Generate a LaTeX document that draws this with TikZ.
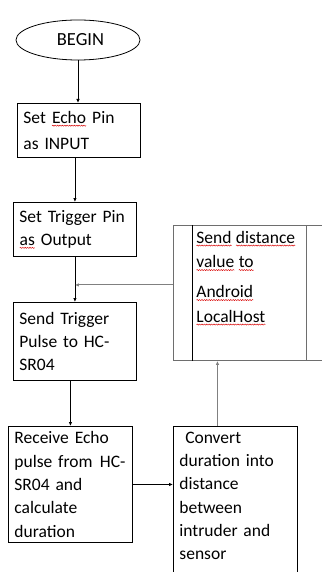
\documentclass[tikz,border=0pt]{standalone}
\usepackage{fontspec}
\setmainfont{Carlito}
\usetikzlibrary{arrows.meta,shapes.geometric,calc,decorations.pathmorphing}
\definecolor{pdgray}{RGB}{110,110,110}
\definecolor{lngray}{RGB}{128,128,128}
\newcommand{\sqw}[1]{\tikz[baseline=(w.base),x=1pt,y=1pt]{\node[inner sep=0pt,outer sep=0pt,draw=none,
  minimum width=0pt,minimum height=0pt,text width={},align=none,anchor=base] (w) at (0,0) {#1};
  \draw[red!85!black,line width=0.45pt,decorate,decoration={snake,amplitude=0.55pt,segment length=2.4pt}]
  ([yshift=-2.2pt]w.base west) -- ([yshift=-2.2pt]w.base east);}}
\begin{document}
\begin{tikzpicture}[x=1pt,y=-1pt,
  box/.style={draw=black,line width=0.9pt,rectangle,anchor=north west,align=left,
    inner xsep=6pt,inner ysep=0pt,font=\fontsize{17.5}{23.3}\selectfont},
  arr/.style={draw=black,line width=0.8pt,-{Latex[length=4pt,width=3.5pt]}},
  garr/.style={draw=lngray,line width=1pt,-{Latex[length=4pt,width=3.5pt]}}]
\useasboundingbox[fill=white] (0,0) rectangle (321,572);

\node[draw=black,line width=0.8pt,ellipse,minimum width=124pt,minimum height=40pt,inner sep=0pt,
  font=\fontsize{18.5}{22}\selectfont] (begin) at (78,40) {\hspace*{5pt}BEGIN};

\node[box,text width=111pt,minimum height=54pt,font=\fontsize{17.5}{26}\selectfont] (b1) at (17,103)
  {Set \sqw{Echo} Pin\\as INPUT};
\node[box,text width=111pt,minimum height=54pt] (b2) at (13,202)
  {Set Trigger Pin\\\sqw{as} Output};
\node[box,text width=111pt,minimum height=78pt] (b3) at (13,302)
  {Send Trigger\\Pulse to HC-\\SR04};
\node[box,text width=112pt,minimum height=116pt] (b4) at (8,426)
  {Receive Echo\\\mbox{pulse from\hspace{1.5pt} HC-}\\SR04 and\\calculate\\duration};
\node[box,text width=112pt,inner ysep=5.5pt] (b5) at (173,426)
  {\ Convert\\duration into\\distance\\between\\intruder and\\sensor\rule[-30pt]{0pt}{0pt}};

\node[draw=pdgray,line width=0.9pt,rectangle,anchor=north west,minimum width=157pt,
  minimum height=135pt,inner sep=0pt] (pd) at (173,225) {};
\draw[black,line width=0.8pt] ([xshift=19pt]pd.north west) -- ([xshift=19pt]pd.south west);
\draw[pdgray,line width=0.9pt] ([xshift=133pt]pd.north west) -- ([xshift=133pt]pd.south west);
\node[anchor=north west,align=left,inner sep=0pt,font=\fontsize{17.5}{24.5}\selectfont] (pdtext) at (196,231)
  {\sqw{Send} \sqw{distance}\\\sqw{value} \sqw{to}\\[5.5pt]\sqw{Android}\\\sqw{LocalHost}};

\draw[arr] (begin.south) -- (begin.south |- b1.north);
\draw[arr] (b1.south -| b2.north) -- (b2.north);
\draw[arr] (b2.south) -- (b3.north);
\draw[garr] ([yshift=8pt]pd.west) -- ([yshift=8pt]pd.west -| b2.south);
\draw[arr] (b3.south -| b4.north) -- (b4.north);
\draw[arr] (b4.east) -- (b4.east -| b5.west);
\draw[garr] ([xshift=-18pt]b5.north) -- ([xshift=-18pt]b5.north |- pd.south);
\end{tikzpicture}
\end{document}
